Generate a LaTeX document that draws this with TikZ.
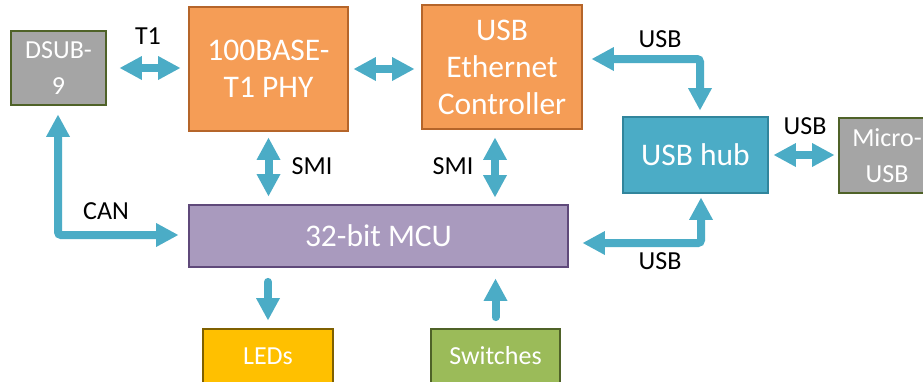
\documentclass[tikz,border=0pt]{standalone}
\usepackage{fontspec}
\setmainfont{Carlito}
\usetikzlibrary{arrows.meta,calc}

\definecolor{linkblue}{HTML}{4BACC6}
\definecolor{phyorange}{HTML}{F59D56}
\definecolor{phyborder}{HTML}{B5652A}
\definecolor{conngray}{HTML}{A5A5A5}
\definecolor{oliveborder}{HTML}{4F6228}
\definecolor{mcupurple}{HTML}{A99ABE}
\definecolor{mcuborder}{HTML}{5F497A}
\definecolor{hubborder}{HTML}{31859C}
\definecolor{ledyellow}{HTML}{FFC000}
\definecolor{ledborder}{HTML}{7F6000}
\definecolor{swgreen}{HTML}{9BBB59}

\tikzset{
  block/.style={draw, line width=1.8pt, rectangle, inner sep=0pt, text=white, align=center},
  bigtext/.style={font=\fontsize{31.5}{37}\selectfont},
  smalltext/.style={font=\fontsize{26}{36}\selectfont},
  lbl/.style={font=\fontsize{26}{30}\selectfont, text=black, inner sep=0pt},
  tip/.tip={Triangle[width=24pt,length=22pt,line width=0pt]},
  link/.style={draw=linkblue, line width=8pt, rounded corners=3pt},
  both/.style={link, tip-tip},
  one/.style={link, line cap=round, -tip},
}

\begin{document}
\begin{tikzpicture}[x=1pt,y=-1pt]
  \clip (0,0) rectangle (923,381);
  \fill[white] (0,0) rectangle (923,381);

  % blocks
  \node[block, smalltext, fill=conngray, draw=oliveborder, minimum width=95pt, minimum height=74pt]
    (dsub) at (58.5,68) {DSUB-\\9};
  \node[block, bigtext, fill=phyorange, draw=phyborder, minimum width=159pt, minimum height=124pt]
    (phy) at (268.5,69) {100BASE-\\T1 PHY};
  \node[block, bigtext, fill=phyorange, draw=phyborder, minimum width=160pt, minimum height=124pt]
    (eth) at (502,67) {USB\\Ethernet\\Controller};
  \node[block, bigtext, fill=linkblue, draw=hubborder, minimum width=145pt, minimum height=76pt]
    (hub) at (695.5,155) {USB hub};
  \node[block, smalltext, fill=conngray, draw=oliveborder, minimum width=96pt, minimum height=75pt]
    (micro) at (887,155.5) {Micro-\\USB};
  \node[block, bigtext, fill=mcupurple, draw=mcuborder, minimum width=379pt, minimum height=62pt]
    (mcu) at (378.5,236) {32-bit MCU};
  \node[block, smalltext, fill=ledyellow, draw=ledborder, minimum width=130pt, minimum height=54pt]
    (leds) at (268,356) {LEDs};
  \node[block, smalltext, fill=swgreen, draw=oliveborder, minimum width=129pt, minimum height=54pt]
    (sw) at (495.5,356) {Switches};

  % connectors
  \draw[both] ($(dsub.east)+(13,0)$) -- ($(dsub.east -| phy.west)+(-8,0)$);
  \draw[both] ($(phy.east)+(5,0)$) -- ($(phy.east -| eth.west)+(-7,0)$);
  \draw[both] ($(eth.east)+(9,-8)$) -| ($(hub.north)+(4.5,-6)$);
  \draw[both] ($(hub.east)+(5,0)$) -- ($(hub.east -| micro.west)+(-4,0)$);
  \draw[both] ($(mcu.east)+(14,7)$) -| ($(hub.south)+(5.5,4)$);
  \draw[both] ($(dsub.south)+(-0.5,9)$) |- ($(mcu.west)+(-10,-1)$);
  \draw[both] ($(phy.south)+(0,6)$) -- ($(phy.south |- mcu.north)+(0,-8)$);
  \draw[both] ($(eth.south)+(-7,8)$) -- ($(eth.south |- mcu.north)+(-7,-7)$);
  \draw[one] ($(leds.north |- mcu.south)+(0,14)$) -- ($(leds.north)+(0,-8)$);
  \draw[one] ($(sw.north)+(0,-11)$) -- ($(sw.north |- mcu.south)+(0,11)$);

  % connector labels
  \node[lbl] (lt1) at (148,36.5) {T1};
  \node[lbl] (lusb1) at (660,39.5) {USB};
  \node[lbl] (lusb2) at (805,126.5) {USB};
  \node[lbl] (lusb3) at (660,261.5) {USB};
  \node[lbl] (lcan) at (106,211.5) {CAN};
  \node[lbl] (lsmi1) at (312,166.5) {SMI};
  \node[lbl] (lsmi2) at (453,166.5) {SMI};
\end{tikzpicture}
\end{document}
